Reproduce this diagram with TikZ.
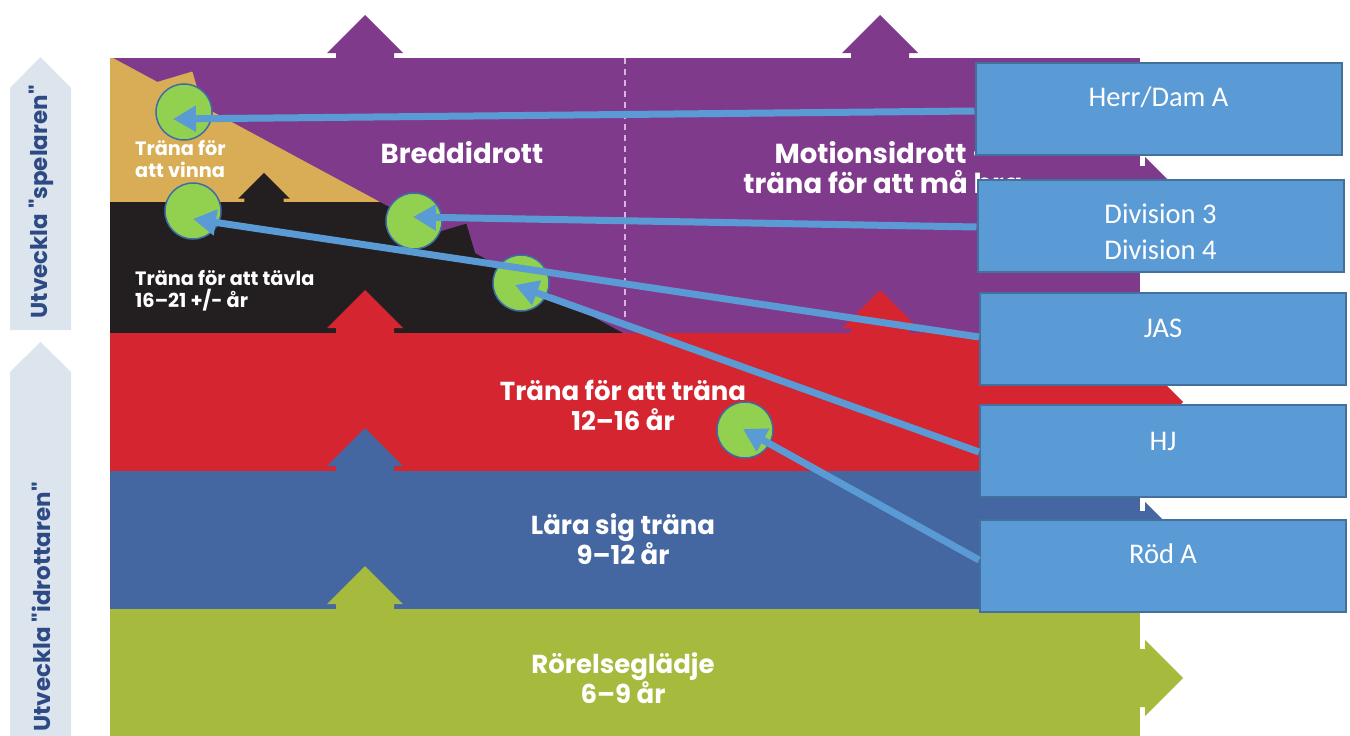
\documentclass[tikz,border=0pt]{standalone}
\usepackage{fontspec}
\usetikzlibrary{arrows.meta,calc}
\newfontfamily\pop{Poppins}
\newfontfamily\carl{Carlito}
\definecolor{purp}{HTML}{803A8C}
\definecolor{gold}{HTML}{D8AD56}
\definecolor{blk}{HTML}{231F20}
\definecolor{redb}{HTML}{D42530}
\definecolor{blueb}{HTML}{4467A1}
\definecolor{greenb}{HTML}{A6BA3E}
\definecolor{pale}{HTML}{DCE4ED}
\definecolor{navy}{HTML}{2D4A85}
\definecolor{boxfill}{HTML}{5B9BD5}
\definecolor{boxline}{HTML}{41719C}
\definecolor{dotgreen}{HTML}{92D050}
\definecolor{dotline}{HTML}{3C6DA6}
\definecolor{dashc}{HTML}{D9B3E0}
% x, y (base), rotation, colour, scale
\newcommand{\housearrow}[5]{\fill[#4,shift={(#1,#2)},rotate=#3,scale=#5] (-29,0) -- (-29,-5) -- (-38,-5) -- (0,-43) -- (38,-5) -- (29,-5) -- (29,0) -- cycle;}
\begin{document}
\begin{tikzpicture}[x=1pt,y=-1pt,
  bandtxt/.style={text=white,font=\pop\bfseries\fontsize{26}{30}\selectfont,anchor=base,inner sep=0},
  smalltxt/.style={text=white,font=\pop\bfseries\fontsize{19.3}{22}\selectfont,anchor=base west,inner sep=0},
  bigtxt/.style={text=white,font=\pop\bfseries\fontsize{27.5}{30}\selectfont,anchor=base,inner sep=0},
  sidetxt/.style={text=navy,font=\pop\bfseries\fontsize{23}{26}\selectfont,rotate=90,inner sep=0},
  box/.style={draw=boxline,fill=boxfill,line width=2pt,minimum width=366pt,minimum height=92pt,inner sep=0},
  btxt/.style={text=white,font=\carl\fontsize{28.5}{36}\selectfont,align=center,inner sep=0},
  dot/.style={circle,fill=dotgreen,draw=dotline,line width=1.5pt,minimum size=56pt,inner sep=0},
  conn/.style={draw=boxfill,line width=7pt,-{Triangle[length=23pt,width=25pt]}}]
\useasboundingbox (0,0) rectangle (1350,736);
\fill[white] (0,0) rectangle (1350,736);
% side arrows
\fill[pale] (10,330) -- (10,88) -- (40.5,57) -- (71,88) -- (71,330) -- cycle;
\fill[pale] (10,736) -- (10,372) -- (40.5,342) -- (71,372) -- (71,736) -- cycle;
\node[sidetxt] (lab1) at (41,202) {Utveckla "spelaren"};
\node[sidetxt] (lab2) at (41,607) {Utveckla "idrottaren"};
% right-pointing arrows
\housearrow{1140}{195}{-90}{purp}{1}
\housearrow{1140}{402}{-90}{redb}{1}
\housearrow{1140}{540}{-90}{blueb}{1}
\housearrow{1140}{678}{-90}{greenb}{1}
% bands
\fill[purp] (110,58) rectangle (1140,333);
\fill[gold] (110,58) -- (113,58) -- (380,202) -- (110,202) -- cycle;
\fill[blk] (110,202) -- (380,202) -- (623,333) -- (110,333) -- cycle;
\fill[redb] (110,333) rectangle (1140,471);
\fill[blueb] (110,471) rectangle (1140,609);
\fill[greenb] (110,609) rectangle (1140,736);
% up arrows
\housearrow{365}{58}{0}{purp}{1}
\housearrow{880}{58}{0}{purp}{1}
\housearrow{365}{333}{0}{redb}{1}
\housearrow{880}{333}{0}{redb}{1}
\housearrow{365}{471}{0}{blueb}{1}
\housearrow{365}{609}{0}{greenb}{1}
\housearrow{264}{202}{0}{blk}{0.68}
\housearrow{178}{98}{-28.4}{gold}{0.7}
\housearrow{451}{252}{-28.4}{blk}{0.75}
% dashed divider
\draw[dashc,line width=1.5pt,dash pattern=on 6pt off 5pt] (625,58) -- (625,333);
% band texts
\node[smalltxt] (v1) at (135,155) {Träna för};
\node[smalltxt] (v2) at (135,177) {att vinna};
\node[smalltxt] (t1) at (135,285) {Träna för att tävla};
\node[smalltxt] (t2) at (135,307) {16–21 +/- år};
\node[bigtxt] (bred) at (462,163) {Breddidrott};
\node[bigtxt] (mo1) at (883,163) {Motionsidrott –};
\node[bigtxt] (mo2) at (883,193) {träna för att må bra};
\node[bandtxt] (r1) at (623,400) {Träna för att träna};
\node[bandtxt] (r2) at (623,430) {12–16 år};
\node[bandtxt] (b1) at (623,534) {Lära sig träna};
\node[bandtxt] (b2) at (623,564) {9–12 år};
\node[bandtxt] (g1) at (623,673) {Rörelseglädje};
\node[bandtxt] (g2) at (623,703) {6–9 år};
% green markers
\node[dot] (c1) at (184,112) {};
\node[dot] (c2) at (193,211) {};
\node[dot] (c3) at (414,221) {};
\node[dot] (c4) at (521,283) {};
\node[dot] (c5) at (745,430) {};
% boxes
\node[box] (herr) at (1158.5,109) {};
\node[box] (div) at (1160.5,226) {};
\node[box] (jas) at (1163,339) {};
\node[box] (hj) at (1163,451) {};
\node[box] (rod) at (1163,566) {};
\node[btxt] (herrt) at ([yshift=-35pt]herr.north) {Herr/Dam A};
\node[btxt] (divt) at ([yshift=-53pt]div.north) {Division 3\\Division 4};
\node[btxt] (jast) at ([yshift=-36pt]jas.north) {JAS};
\node[btxt] (hjt) at ([yshift=-37pt]hj.north) {HJ};
\node[btxt] (rodt) at ([yshift=-35pt]rod.north) {Röd A};
% connectors
\draw[conn] ([yshift=-2pt]herr.west) -- ([shift={(-11,7)}]c1.center);
\draw[conn] ([yshift=-1pt]div.west) -- ([shift={(-1,-4)}]c3.center);
\draw[conn] ([yshift=2pt]jas.west) -- ([shift={(0,8)}]c2.center);
\draw[conn] ([yshift=-1pt]hj.west) -- ([shift={(-6,2)}]c4.center);
\draw[conn] ([yshift=6pt]rod.west) -- ([shift={(-2,-1)}]c5.center);
\end{tikzpicture}
\end{document}
